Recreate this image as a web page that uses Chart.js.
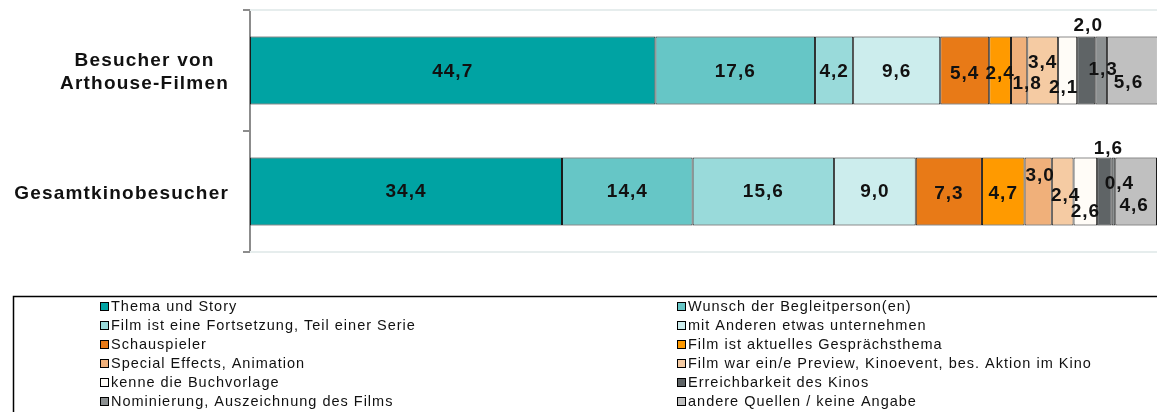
<!DOCTYPE html>
<html>
<head>
<meta charset="utf-8">
<script src="https://cdn.jsdelivr.net/npm/chart.js@4/dist/chart.umd.min.js"></script>
<style>
  html, body { margin: 0; padding: 0; background: #fff; }
  #wrap { width: 1157px; height: 412px; }
</style>
</head>
<body>
<div id="wrap"><canvas id="motiveChart"></canvas></div>
<script>
// Gründe für den Kinobesuch, Angaben in %
var categories = [
    ['Besucher von', 'Arthouse-Filmen'],
    ['Gesamtkinobesucher']
];

var seriesNames = [
    'Thema und Story',
    'Wunsch der Begleitperson(en)',
    'Film ist eine Fortsetzung, Teil einer Serie',
    'mit Anderen etwas unternehmen',
    'Schauspieler',
    'Film ist aktuelles Gesprächsthema',
    'Special Effects, Animation',
    'Film war ein/e Preview, Kinoevent, bes. Aktion im Kino',
    'kenne die Buchvorlage',
    'Erreichbarkeit des Kinos',
    'Nominierung, Auszeichnung des Films',
    'andere Quellen / keine Angabe'
];

// one row per series: [Arthouse, Gesamt]
var seriesValues = [
    [44.7, 34.4],
    [17.6, 14.4],
    [4.2, 15.6],
    [9.6, 9.0],
    [5.4, 7.3],
    [2.4, 4.7],
    [1.8, 3.0],
    [3.4, 2.4],
    [2.1, 2.6],
    [2.0, 1.6],
    [1.3, 0.4],
    [5.6, 4.6]
];

var colors = [
    '#00a3a3', '#66c6c6', '#99dada', '#cceded',
    '#e87a17', '#ff9a00', '#f0b07a', '#f5cba3',
    '#fffcf7', '#5f6466', '#8c9091', '#c0c0c0'
];

// label nudges (dx, dy) so the small segments don't overlap, like in the original
var labelShift = [
    [[0, 1], [0, 0]],
    [[0, 1], [0, 0]],
    [[0, 1], [0, 0]],
    [[0, 1], [0, 0]],
    [[0, 3], [0, 2]],
    [[0, 3], [0, 2]],
    [[8, 13], [2, -16]],
    [[0, -8], [3, 4]],
    [[-4, 17], [0, 20]],
    [[2, -45], [4, -43]],
    [[2, -1], [6, -8]],
    [[-4, 12], [-2, 14]]
];

var datasets = seriesNames.map(function(name, i) {
    return {
        label: name,
        data: seriesValues[i],
        backgroundColor: colors[i],
        borderColor: '#1a1a1a',
        borderWidth: 1,
        borderSkipped: false,
        barPercentage: 0.56,
        categoryPercentage: 1.0
    };
});

var barLabels = {
    id: 'barLabels',
    afterDatasetsDraw: function(chart) {
        var ctx = chart.ctx;
        ctx.save();
        ctx.font = 'bold 19px "Liberation Sans", Arial, sans-serif';
        ctx.letterSpacing = '1px';
        ctx.fillStyle = '#111';
        ctx.textAlign = 'center';
        ctx.textBaseline = 'middle';
        chart.data.datasets.forEach(function(ds, i) {
            var meta = chart.getDatasetMeta(i);
            meta.data.forEach(function(bar, j) {
                var cx = (bar.x + bar.base) / 2;
                var sh = labelShift[i][j];
                var txt = ds.data[j].toFixed(1).replace('.', ',');
                ctx.fillText(txt, cx + sh[0], bar.y + sh[1]);
            });
        });
        ctx.restore();
    }
};

// category names: block right aligned next to the axis, lines centred in the block
var catLabels = {
    id: 'catLabels',
    afterDraw: function(chart) {
        var ctx = chart.ctx;
        var yScale = chart.scales.y;
        ctx.save();
        ctx.font = 'bold 19px "Liberation Sans", Arial, sans-serif';
        ctx.letterSpacing = '1.2px';
        ctx.fillStyle = '#111';
        ctx.textAlign = 'center';
        ctx.textBaseline = 'middle';
        chart.data.labels.forEach(function(lines, j) {
            var maxW = 0;
            lines.forEach(function(l) { maxW = Math.max(maxW, ctx.measureText(l).width); });
            var cx = 229 - maxW / 2;
            var cy = yScale.getPixelForValue(j);
            var lh = 23;
            var y0 = cy - (lines.length - 1) * lh / 2 + 2;
            lines.forEach(function(l, k) {
                ctx.fillText(l, cx, y0 + k * lh);
            });
        });
        ctx.restore();
    }
};

var frameLines = {
    id: 'frameLines',
    beforeDatasetsDraw: function(chart) {
        var a = chart.chartArea;
        var ctx = chart.ctx;
        ctx.save();
        ctx.strokeStyle = '#e6eded';
        ctx.lineWidth = 2;
        ctx.beginPath();
        ctx.moveTo(a.left, a.top);
        ctx.lineTo(a.right, a.top);
        ctx.moveTo(a.left, a.bottom);
        ctx.lineTo(a.right, a.bottom);
        ctx.stroke();
        ctx.restore();
    }
};

var boxLegend = {
    id: 'boxLegend',
    afterDraw: function(chart) {
        var ctx = chart.ctx;
        ctx.save();
        ctx.strokeStyle = '#000';
        ctx.lineWidth = 1.5;
        ctx.strokeRect(13.5, 296.5, 1160, 130);
        ctx.font = '14.5px "Liberation Sans", Arial, sans-serif';
        ctx.letterSpacing = '1px';
        ctx.textBaseline = 'middle';
        ctx.textAlign = 'left';
        chart.data.datasets.forEach(function(ds, i) {
            var col = i % 2;
            var row = Math.floor(i / 2);
            var x = col === 0 ? 100 : 677;
            var y = 307 + row * 19;
            ctx.fillStyle = ds.backgroundColor;
            ctx.fillRect(x, y - 5, 9, 9);
            ctx.strokeStyle = '#000';
            ctx.lineWidth = 1;
            ctx.strokeRect(x + 0.5, y - 4.5, 8, 8);
            ctx.fillStyle = '#111';
            ctx.fillText(ds.label, x + 11, y);
        });
        ctx.restore();
    }
};

var ctx = document.getElementById('motiveChart');
new Chart(ctx, {
    type: 'bar',
    data: {
        labels: categories,
        datasets: datasets
    },
    options: {
        indexAxis: 'y',
        responsive: true,
        maintainAspectRatio: false,
        animation: false,
        layout: {
            padding: { top: 10, bottom: 160, left: 0, right: 0 }
        },
        plugins: {
            legend: { display: false },
            tooltip: { enabled: false }
        },
        scales: {
            x: {
                stacked: true,
                min: 0,
                max: 100,
                display: false
            },
            y: {
                stacked: true,
                afterFit: function(scale) { scale.width = 250; },
                border: { color: '#8c8c8c', width: 2 },
                grid: {
                    offset: true,
                    drawOnChartArea: false,
                    tickLength: 7,
                    color: '#8c8c8c',
                    lineWidth: 2
                },
                ticks: { display: false }
            }
        }
    },
    plugins: [frameLines, barLabels, catLabels, boxLegend]
});
</script>
</body>
</html>
